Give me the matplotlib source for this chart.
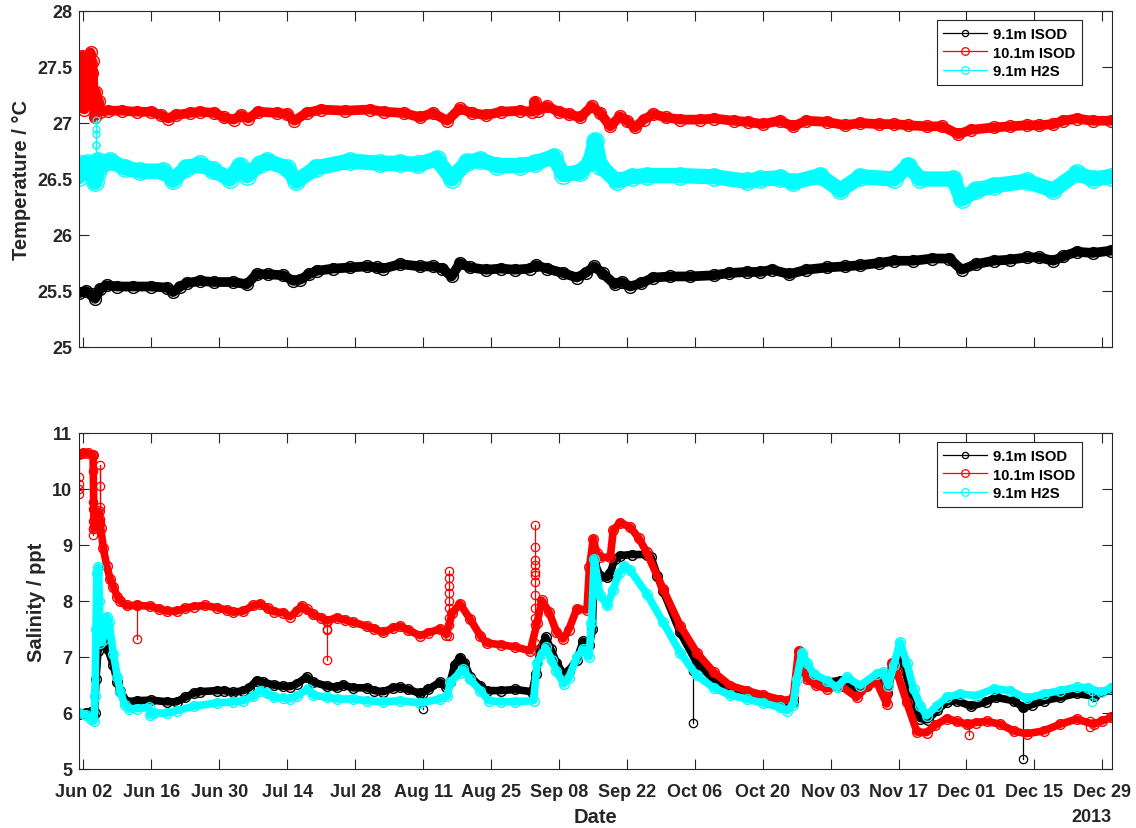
import numpy as np
import pandas as pd
import matplotlib
matplotlib.use('Agg')
import matplotlib.pyplot as plt
from matplotlib.lines import Line2D
from matplotlib.ticker import FuncFormatter, FixedLocator
import matplotlib.dates as mdates

plt.rcParams['font.family'] = ['Liberation Sans', 'DejaVu Sans']
plt.rcParams['font.weight'] = 'bold'

START = pd.Timestamp('2013-06-01')
labels = ['9.1m ISOD', '10.1m ISOD', '9.1m H2S']
colors = ['#000000', '#ff0000', '#00ffff']
tick_dates = pd.date_range('2013-06-02', '2013-12-29', freq='14D')
year_label = '2013'

# ---------------- Temperature (day since Jun 1, degC) ----------------
temp_isod91 = [(0.1,25.48),(1.5,25.50),(2.7,25.47),(3.4,25.43),(4.5,25.52),(5.8,25.55),(8,25.54),
    (11.3,25.54),(15,25.54),(18.2,25.53),(19.5,25.49),(21,25.54),(22.3,25.57),(25,25.59),(28,25.58),
    (31.9,25.58),(34.7,25.56),(36.7,25.65),(39,25.65),(42.2,25.64),(44.3,25.59),(45.7,25.60),(47.5,25.65),
    (49.1,25.68),(52.5,25.70),(56,25.71),(59.4,25.72),(61.5,25.71),(62.8,25.70),(66.3,25.74),(70.4,25.72),
    (73,25.72),(75,25.70),(76.9,25.63),(78.6,25.75),(80.7,25.71),(84,25.69),(87,25.70),(90,25.69),
    (93,25.70),(94.3,25.73),(96.5,25.70),(99.9,25.66),(102.7,25.62),(104.5,25.66),(106.3,25.72),(108,25.66),
    (110.5,25.56),(112,25.58),(113.7,25.54),(116,25.57),(118.5,25.62),(122,25.63),(126,25.63),(130.9,25.64),
    (134,25.66),(137.7,25.67),(140.5,25.67),(143,25.69),(146.5,25.65),(150,25.69),(154.2,25.71),(158,25.72),
    (161.1,25.73),(165,25.75),(168,25.77),(172,25.77),(176,25.79),(179.5,25.79),(182,25.69),(185,25.74),
    (188.6,25.77),(192,25.78),(195.4,25.80),(198,25.80),(200.9,25.77),(203,25.81),(205.7,25.85),(209,25.84),
    (212.8,25.86)]

temp_isod101 = [(0.1,27.55),(0.3,27.15),(0.55,27.48),(0.8,27.60),(1.0,27.30),(1.2,27.12),(1.45,27.40),
    (1.7,27.58),(1.9,27.25),(2.1,27.45),(2.3,27.35),(2.5,27.63),(2.7,27.45),(2.9,27.55),(3.1,27.25),
    (3.3,27.05),(3.6,27.28),(3.9,27.12),(4.2,27.20),(4.5,27.10),(6,27.11),(9,27.11),(12,27.10),(15,27.10),
    (17,27.07),(18.5,27.04),(20,27.07),(23,27.09),(25,27.10),(28,27.09),(30,27.05),(32,27.03),(33.5,27.07),
    (35,27.04),(37,27.10),(41,27.09),(43,27.08),(44.5,27.02),(47,27.09),(50,27.12),(55,27.11),(60,27.12),
    (63,27.10),(67,27.09),(70.4,27.05),(73,27.09),(76,27.02),(78.6,27.13),(81,27.09),(84,27.07),(87,27.10),
    (91,27.11),(93.5,27.10),(94.1,27.19),(94.7,27.11),(96.5,27.15),(99,27.10),(101,27.08),(103.4,27.05),
    (105.8,27.15),(107.5,27.09),(109.6,26.97),(111.6,27.06),(113,27.02),(114.7,26.96),(116.5,27.03),
    (118.5,27.08),(121,27.05),(124,27.03),(128,27.03),(131,27.04),(135,27.02),(138,27.01),(141,26.99),
    (144.5,27.02),(147.3,26.97),(150,27.02),(154.2,27.01),(158,26.98),(161.1,27.00),(165,26.99),(168,26.99),
    (171,26.98),(174.8,26.97),(178,26.97),(181.3,26.90),(184,26.94),(188.6,26.96),(192,26.97),(195.4,26.98),
    (198,26.98),(200.9,26.99),(203,27.02),(205.7,27.04),(209,27.02),(212.8,27.02)]

temp_h2s91 = [(0.1,26.52),(0.8,26.63),(2.0,26.64),(2.8,26.60),(3.4,26.47),(3.8,26.55),(4.0,26.66),
    (4.4,26.62),(6.5,26.66),(9.5,26.60),(12.7,26.57),(17.5,26.57),(19.5,26.49),(22.2,26.60),(25,26.63),
    (27.7,26.58),(31.2,26.50),(33.2,26.62),(34.7,26.53),(37.4,26.63),(38.8,26.66),(42.9,26.60),(44.9,26.48),
    (49,26.60),(55.9,26.66),(62.1,26.64),(66.3,26.64),(70,26.63),(73.8,26.68),(76.9,26.50),(80,26.65),
    (82.8,26.67),(86.2,26.62),(91,26.62),(94,26.64),(97.9,26.70),(99.9,26.54),(103.4,26.56),(105.4,26.65),
    (106.5,26.84),(107.5,26.62),(110.9,26.48),(114,26.52),(117.1,26.53),(124,26.53),(130.9,26.52),
    (137.7,26.48),(140.5,26.50),(144.6,26.51),(147.3,26.47),(152.8,26.53),(157,26.40),(161.1,26.52),
    (168,26.50),(171,26.62),(173.5,26.50),(180.3,26.50),(182,26.32),(185,26.40),(188.6,26.44),(195.4,26.48),
    (200.9,26.40),(205.7,26.55),(209,26.50),(212.8,26.52)]
temp_spikes_h2s91 = [(3.7,[26.55,26.70,26.80,26.90,27.03,26.95,26.80,26.66])]

# ---------------- Salinity (day since Jun 1, ppt) ----------------
sal_isod91 = [(0.1,5.98),(1.5,6.00),(2.5,6.02),(3.0,5.96),(3.3,6.00),(3.6,6.60),(4.0,7.10),(4.6,7.30),
    (5.2,7.35),(6.0,7.15),(7.2,6.85),(8.0,6.55),(8.6,6.40),(9.9,6.20),(12,6.22),(15,6.23),(18.2,6.20),
    (20.2,6.20),(22,6.28),(23.7,6.35),(25,6.38),(28.5,6.40),(30,6.40),(31.9,6.37),(34,6.40),(35.2,6.45),
    (36.7,6.58),(38.1,6.55),(40.2,6.50),(42.2,6.48),(43.6,6.47),(45,6.52),(47,6.64),(48.4,6.55),(51.2,6.48),
    (53.2,6.46),(54.5,6.50),(56.6,6.45),(59.4,6.45),(61,6.40),(62.8,6.38),(64.9,6.45),(66.3,6.46),(68,6.42),
    (70.4,6.35),(72,6.42),(74.5,6.55),(75.8,6.47),(76.6,6.55),(77.5,6.85),(78.6,6.99),(79.5,6.90),(80.7,6.65),
    (82.8,6.48),(84.1,6.40),(87,6.40),(90,6.42),(93.5,6.38),(94.3,6.70),(95.2,7.15),(96.3,7.35),(97.3,7.15),
    (98.5,6.90),(99.9,6.70),(101,6.75),(102.7,6.95),(104,7.28),(105.3,7.22),(105.9,7.50),(106.3,8.70),
    (107.5,8.45),(109,8.42),(109.6,8.50),(110.5,8.75),(111.6,8.81),(114,8.83),(117.1,8.83),(118,8.78),
    (119.3,8.45),(120.5,8.18),(124,7.44),(127.4,6.90),(130.9,6.60),(134.3,6.42),(137.7,6.32),(141.1,6.25),
    (144.6,6.15),(146,6.10),(147.3,6.20),(148.2,6.75),(148.9,7.02),(150.1,6.80),(152,6.62),(154.2,6.55),
    (157,6.58),(160.4,6.40),(162.5,6.50),(164.5,6.62),(166.6,6.35),(168.2,6.90),(169,7.10),(170,6.85),
    (171.5,6.40),(172.5,6.10),(173.5,5.90),(175,5.88),(177,6.05),(179,6.20),(181,6.22),(184,6.12),(187,6.20),
    (189,6.28),(192.7,6.22),(194.7,6.10),(196.5,6.15),(199,6.22),(202.3,6.28),(205.7,6.35),(209.2,6.30),
    (212.8,6.42)]

sal_isod101 = [(0.1,10.63),(1.0,10.65),(2.0,10.64),(3.0,10.60),(3.2,9.30),(3.5,9.50),(3.9,9.35),(4.3,9.60),
    (4.6,9.30),(5.1,8.95),(5.8,8.63),(6.5,8.40),(7.2,8.25),(8.0,8.08),(8.6,8.00),(9.9,7.92),(12,7.92),
    (14.7,7.91),(16.5,7.86),(18.2,7.82),(20.2,7.82),(22,7.87),(23.7,7.90),(26,7.92),(28.5,7.88),(30.5,7.84),
    (31.9,7.80),(34,7.82),(36,7.92),(37.4,7.95),(39,7.87),(40.2,7.81),(42.2,7.79),(43.6,7.72),(45,7.82),
    (46,7.91),(47,7.85),(48.4,7.76),(50,7.70),(51.2,7.65),(53.2,7.70),(55,7.66),(56.6,7.62),(59.4,7.55),
    (61,7.50),(62.8,7.44),(64.9,7.52),(66.3,7.55),(68,7.48),(70.4,7.38),(72,7.43),(74.5,7.50),(75.8,7.40),
    (77,7.78),(78.6,7.95),(80.7,7.68),(82.8,7.38),(84.1,7.25),(87,7.22),(90,7.18),(93.1,7.11),(94.5,7.60),
    (95.5,8.01),(97,7.80),(98.5,7.45),(99.9,7.32),(101,7.48),(102.7,7.86),(104.8,7.84),(105.3,8.60),
    (106.1,9.11),(106.8,8.85),(107.5,8.78),(109.6,8.78),(110.2,9.26),(111.6,9.40),(113.7,9.32),(115.5,9.12),
    (117.1,8.87),(120.5,8.21),(124,7.56),(127.4,7.08),(130.9,6.73),(134.3,6.49),(137.7,6.40),(141.1,6.32),
    (144.6,6.24),(146,6.22),(147.3,6.27),(148.4,7.11),(150.1,6.61),(152,6.50),(154.2,6.43),(157,6.49),
    (160.4,6.28),(162.5,6.48),(164.5,6.55),(166.6,6.16),(167.6,6.90),(168.6,6.75),(170.7,6.19),(172.8,5.66),
    (174.8,5.65),(176.5,5.78),(178.9,5.90),(181,5.85),(183.1,5.80),(185,5.83),(187.2,5.85),(190,5.80),
    (192.7,5.68),(195.4,5.63),(198.9,5.68),(202.3,5.80),(205.7,5.89),(209.2,5.80),(211,5.86),(212.8,5.92)]

sal_h2s91 = [(0.1,6.00),(1.5,5.97),(2.5,5.90),(3.2,5.86),(3.4,6.30),(3.6,7.50),(3.8,8.50),(4.1,8.60),
    (4.3,8.00),(4.5,7.25),(5.0,7.30),(5.8,7.72),(6.3,7.62),(7.2,7.05),(8.0,6.65),(8.6,6.38),(9.5,6.15),
    (10.5,6.07),(12,6.08),(14.5,6.10),(14.8,5.96),(15.5,6.00),(18.2,6.00),(20.2,6.04),(23.7,6.12),(28.5,6.18),
    (31.9,6.20),(34,6.22),(36,6.30),(37.4,6.40),(38.8,6.35),(40.2,6.28),(42.2,6.27),(43.6,6.25),(45,6.30),
    (47.2,6.43),(48.4,6.32),(51.2,6.28),(53.2,6.25),(56.6,6.25),(59.4,6.22),(62.8,6.20),(66.3,6.22),
    (70.4,6.18),(74.5,6.25),(76,6.30),(76.6,6.55),(78.6,6.72),(79.3,6.78),(80.7,6.60),(82.8,6.40),(84.5,6.22),
    (87,6.20),(90,6.20),(93.8,6.22),(94.5,6.90),(95.5,7.05),(96.3,7.17),(97.5,6.95),(98.5,6.75),(100,6.52),
    (101,6.62),(102.7,7.00),(104,7.14),(105.2,7.00),(105.7,7.60),(106.3,8.75),(107.5,8.10),(109,7.92),
    (110.2,8.20),(111.4,8.50),(112.5,8.63),(113.7,8.55),(117.1,8.13),(120.5,7.62),(124,7.08),(127.4,6.67),
    (130.9,6.45),(134.3,6.32),(137.7,6.25),(141.1,6.18),(144.6,6.10),(146,6.04),(147.3,6.15),(148,6.60),
    (149.1,7.08),(150.1,6.90),(151.5,6.70),(154.2,6.58),(156.3,6.46),(158.3,6.64),(161.1,6.49),(164.5,6.70),
    (165.9,6.73),(166.9,6.49),(168,6.85),(169.3,7.26),(170.7,6.90),(172.1,6.43),(173.5,6.13),(174.8,5.95),
    (176.9,6.13),(178.9,6.28),(181.6,6.34),(185.1,6.31),(188.6,6.43),(192,6.40),(195.4,6.26),(198.9,6.34),
    (202.3,6.40),(205.7,6.46),(208,6.45),(210.8,6.37),(212.8,6.45)]

# isolated spikes (day, readings in time order)
spikes_isod91 = [(71.1,[6.34,6.07]),(126.7,[6.75,5.83]),(194.7,[6.10,5.18])]
spikes_isod101 = [(0.2,[10.63,10.21,10.09,10.00,9.91]),
                  (3.06,[10.60,10.33,9.76,9.64,9.43,9.28,9.18]),
                  (4.44,[9.40,10.42,10.06,9.68,9.46]),
                  (12.0,[7.92,7.32]),
                  (51.2,[7.65,7.50,7.48,6.95]),
                  (76.3,[7.38,7.58,7.70,7.87,8.00,8.14,8.27,8.41,8.54]),
                  (94.1,[7.12,7.25,7.58,7.70,7.87,8.11,8.34,8.46,8.52,8.64,8.73,8.96,9.35]),
                  (183.5,[5.80,5.60]),(208.5,[5.85,5.75])]
spikes_h2s91 = [(208.8,[6.40,6.19])]


def to_dt(days):
    return START + pd.to_timedelta(np.asarray(days, dtype=float), unit='D')


def unzip(pairs):
    d = [p[0] for p in pairs]
    v = [p[1] for p in pairs]
    return to_dt(d), np.array(v)


W, H = 1136, 829
fig = plt.figure(figsize=(W / 100, H / 100), dpi=100)
axL = 79 / W
axW = (1112 - 79) / W
axH = 336 / H
ax1 = fig.add_axes([axL, 1 - 348 / H, axW, axH])
ax2 = fig.add_axes([axL, 1 - 770 / H, axW, axH])

txt = '#262626'
band_cfg_top = [(7.0, 8.5), (7.0, 8.5), (11.0, 12.5)]
band_cfg_bot = [(5.5, 7.0), (5.5, 7.0), (5.5, 7.0)]

for pairs, col, (lw, ms) in zip([temp_isod91, temp_isod101, temp_h2s91], colors, band_cfg_top):
    t, v = unzip(pairs)
    ax1.plot(t, v, '-', color=col, lw=lw, solid_joinstyle='round', solid_capstyle='round', zorder=2)
    ax1.plot(t, v, 'o', color=col, ms=ms, mfc='none', mew=1.0, zorder=2)
for day, vals in temp_spikes_h2s91:
    ax1.plot(to_dt([day] * len(vals)), vals, '-o', color=colors[2], lw=0.9, ms=5,
             mfc='none', mew=0.9, zorder=2)

for pairs, spikes, col, (lw, ms) in zip([sal_isod91, sal_isod101, sal_h2s91],
                                        [spikes_isod91, spikes_isod101, spikes_h2s91],
                                        colors, band_cfg_bot):
    t, v = unzip(pairs)
    ax2.plot(t, v, '-', color=col, lw=lw, solid_joinstyle='round', solid_capstyle='round', zorder=2)
    ax2.plot(t, v, 'o', color=col, ms=ms, mfc='none', mew=1.0, zorder=2)
    for day, vals in spikes:
        ts = to_dt([day] * len(vals))
        ax2.plot(ts, vals, '-o', color=col, lw=0.9, ms=6, mfc='none', mew=0.9, zorder=2)

xlim = to_dt([0.1, 213.0])
for ax in (ax1, ax2):
    ax.set_xlim(xlim[0], xlim[1])
    ax.xaxis.set_major_locator(FixedLocator(mdates.date2num(tick_dates)))
    ax.xaxis.set_major_formatter(mdates.DateFormatter('%b %d'))
    ax.tick_params(direction='in', length=7, width=0.8, top=True, right=True,
                   colors=txt, labelsize=13, labelcolor=txt)
    ax.tick_params(axis='x', pad=10)
    ax.tick_params(axis='y', pad=5)
    for s in ax.spines.values():
        s.set_color(txt)
        s.set_linewidth(0.8)
    ax.yaxis.set_major_formatter(FuncFormatter(lambda v, p: '%g' % v))
    for lab in ax.get_xticklabels() + ax.get_yticklabels():
        lab.set_fontweight('bold')

ax1.set_ylim(25, 28)
ax1.set_yticks(np.arange(25, 28.01, 0.5))
ax1.tick_params(axis='x', labelbottom=False)
ax1.set_ylabel('Temperature / °C', fontsize=14.5, fontweight='bold', color=txt, labelpad=4.5)

ax2.set_ylim(5, 11)
ax2.set_yticks(np.arange(5, 11.01, 1))
ax2.set_ylabel('Salinity / ppt', fontsize=14.5, fontweight='bold', color=txt, labelpad=4.5)
ax2.set_xlabel('Date', fontsize=14.5, fontweight='bold', color=txt, labelpad=5)
ax2.text(1.0, -48 / 336, year_label, transform=ax2.transAxes, ha='right', va='center',
         fontsize=13, fontweight='bold', color=txt)

handles = [Line2D([0], [0], color=c, lw=0.9, marker='o', ms=ms, mfc='none', mew=0.9)
           for c, ms in zip(colors, [4.5, 5.5, 5.5])]
for ax in (ax1, ax2):
    leg = ax.legend(handles, labels, loc='upper right', bbox_to_anchor=(0.971, 0.973),
                    fontsize=10.7, frameon=True, fancybox=False, framealpha=1,
                    edgecolor=txt, handlelength=2.95, handletextpad=0.4,
                    labelspacing=0.32, borderpad=0.45, borderaxespad=0)
    leg.get_frame().set_linewidth(0.8)
    for t in leg.get_texts():
        t.set_fontweight('bold')
        t.set_color('#000000')

fig.savefig('out.png', dpi=100)
